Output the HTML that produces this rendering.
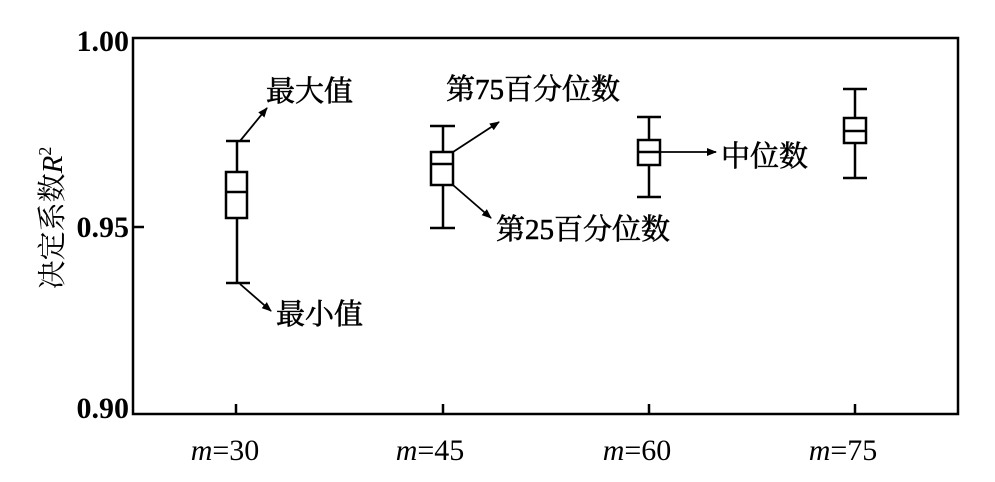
<!DOCTYPE html>
<html><head><meta charset="utf-8"><style>
html,body{margin:0;padding:0;background:#fff;}
svg{display:block;}
text{font-family:"Liberation Serif","Noto Serif CJK SC","Noto Sans CJK SC",serif;fill:#000;}
</style></head><body>
<svg width="995" height="482" viewBox="0 0 995 482" xmlns="http://www.w3.org/2000/svg">
<defs><marker id="a" markerWidth="10" markerHeight="8" refX="9" refY="4" orient="auto" markerUnits="userSpaceOnUse"><path d="M0,0 L10,4 L0,8 Z" fill="#000"/></marker></defs>
<g stroke="#000" stroke-width="2.5" fill="none">
<rect x="133" y="38" width="825" height="376"/>
<line x1="133" y1="227" x2="144" y2="227"/>
<line x1="236" y1="414" x2="236" y2="404"/>
<line x1="443" y1="414" x2="443" y2="404"/>
<line x1="649" y1="414" x2="649" y2="404"/>
<line x1="855" y1="414" x2="855" y2="404"/>
<line x1="226" y1="141" x2="250" y2="141"/><line x1="237" y1="141" x2="237" y2="172"/>
<rect x="226" y="172" width="21" height="46" fill="#fff"/><line x1="226" y1="192" x2="247" y2="192"/>
<line x1="237" y1="218" x2="237" y2="283"/><line x1="226" y1="283" x2="250" y2="283"/>
<line x1="430" y1="126" x2="455" y2="126"/><line x1="443" y1="126" x2="443" y2="152"/>
<rect x="431" y="152" width="22" height="33" fill="#fff"/><line x1="431" y1="164" x2="453" y2="164"/>
<line x1="443" y1="185" x2="443" y2="228"/><line x1="430" y1="228" x2="455" y2="228"/>
<line x1="637" y1="117" x2="661" y2="117"/><line x1="649" y1="117" x2="649" y2="140"/>
<rect x="638" y="140" width="22" height="25" fill="#fff"/><line x1="638" y1="152" x2="660" y2="152"/>
<line x1="649" y1="165" x2="649" y2="197"/><line x1="637" y1="197" x2="661" y2="197"/>
<line x1="843" y1="89" x2="867" y2="89"/><line x1="855" y1="89" x2="855" y2="118"/>
<rect x="844" y="118" width="22" height="25" fill="#fff"/><line x1="844" y1="131" x2="866" y2="131"/>
<line x1="855" y1="143" x2="855" y2="178"/><line x1="843" y1="178" x2="867" y2="178"/>
</g>
<g stroke="#000" stroke-width="1.8" fill="none">
<line x1="240" y1="141" x2="267" y2="108" marker-end="url(#a)"/>
<line x1="240" y1="284" x2="271" y2="311" marker-end="url(#a)"/>
<line x1="453" y1="152" x2="499" y2="122" marker-end="url(#a)"/>
<line x1="453" y1="185" x2="491" y2="218" marker-end="url(#a)"/>
<line x1="660" y1="152" x2="716" y2="152" marker-end="url(#a)"/>
</g>
<g font-size="30" font-weight="bold" text-anchor="end">
<text x="129" y="51">1.00</text>
<text x="129" y="237">0.95</text>
<text x="129" y="418">0.90</text>
</g>
<g font-size="29" stroke="#000" stroke-width="0.6">
<text x="266" y="101">最大值</text>
<text x="276" y="324">最小值</text>
<text x="446" y="99">第75百分位数</text>
<text x="496" y="239">第25百分位数</text>
<text x="721" y="166">中位数</text>
</g>
<g font-size="30" text-anchor="middle">
<text x="225" y="460"><tspan font-style="italic">m</tspan>=30</text>
<text x="430" y="460"><tspan font-style="italic">m</tspan>=45</text>
<text x="637" y="460"><tspan font-style="italic">m</tspan>=60</text>
<text x="843" y="460"><tspan font-style="italic">m</tspan>=75</text>
</g>
<text transform="translate(62,218) rotate(-90)" font-size="29" text-anchor="middle">决定系数<tspan font-style="italic">R</tspan><tspan font-size="18" dy="-11">2</tspan></text>
</svg>
</body></html>
